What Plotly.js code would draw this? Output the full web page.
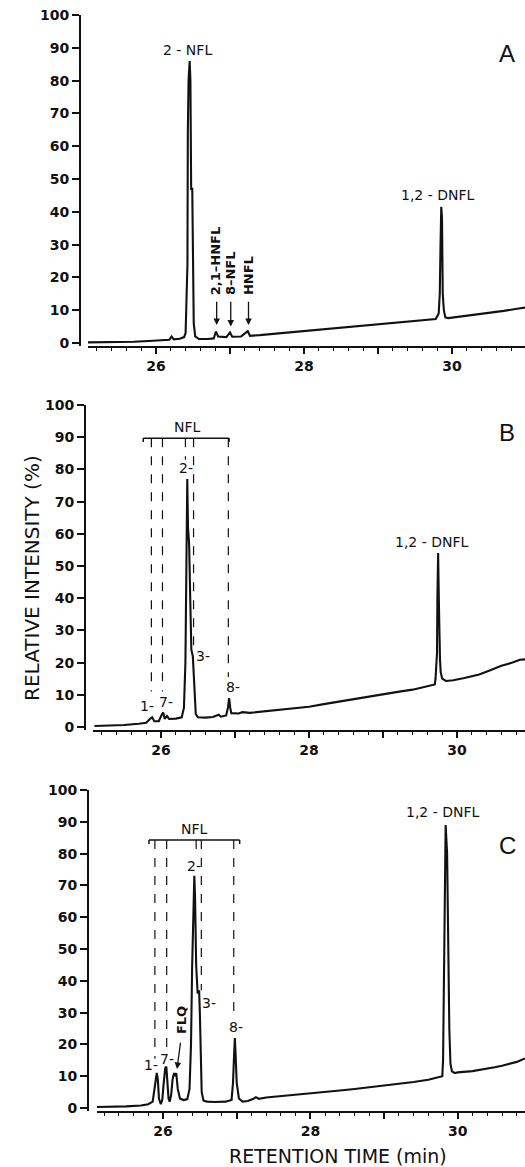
<!DOCTYPE html>
<html>
<head>
<meta charset="utf-8">
<script src="https://cdn.plot.ly/plotly-3.0.1.min.js"></script>
<style>html,body{margin:0;padding:0;background:#fff;}#chart{width:525px;height:1167px;}</style>
</head>
<body>
<div id="chart"></div>
<script>
// ---------- Data ----------
const timeA = [25.08,25.3,25.5,25.7,25.9,26.0,26.1,26.18,26.21,26.24,26.32,26.38,26.40,26.41,26.42,26.425,26.43,26.44,26.455,26.465,26.47,26.475,26.49,26.50,26.51,26.53,26.58,26.7,26.78,26.81,26.84,26.95,27.0,27.03,27.15,27.24,27.27,27.4,27.6,27.8,28.0,28.2,28.4,28.6,28.8,29.0,29.2,29.4,29.6,29.78,29.82,29.835,29.845,29.855,29.865,29.87,29.875,29.89,29.91,29.95,30.1,30.3,30.5,30.7,30.9,30.99];
const intensityA = [0.2,0.2,0.3,0.4,0.6,0.8,0.9,1.0,2.0,1.1,1.3,1.8,3,12,24,24,64,80,86,80,64,47,47,20,6,2.0,1.2,1.2,1.4,3.5,2.0,1.8,3.2,1.9,2.0,3.6,2.2,2.4,2.8,3.2,3.7,4.1,4.5,5.0,5.4,5.8,6.2,6.6,7.0,7.3,9,15,30,41.5,38,28,15,10,7.8,7.6,8.0,8.6,9.2,9.8,10.5,10.8];

const timeB = [25.1,25.3,25.5,25.7,25.8,25.85,25.88,25.91,25.97,26.01,26.03,26.05,26.08,26.11,26.2,26.28,26.31,26.33,26.345,26.355,26.365,26.38,26.395,26.41,26.43,26.45,26.47,26.5,26.6,26.7,26.78,26.81,26.88,26.905,26.92,26.935,26.95,27.05,27.1,27.2,27.4,27.6,27.8,28.0,28.2,28.4,28.6,28.8,29.0,29.2,29.4,29.6,29.7,29.71,29.72,29.73,29.735,29.745,29.755,29.76,29.77,29.78,29.8,29.85,29.95,30.1,30.3,30.45,30.6,30.75,30.85,30.93];
const intensityB = [0.3,0.4,0.6,1.0,1.3,2.5,3.0,1.8,1.8,3.8,4.5,2.5,3.4,2.5,2.6,3.0,6,20,60,77,62,57,40,24,22,12,4,3.0,2.9,3.1,3.8,3.2,3.6,6,9,6,4.3,4.2,4.6,4.4,4.9,5.4,5.9,6.3,7.1,7.9,8.7,9.4,10.2,10.9,11.6,12.6,13.2,15,21,23,40,54,39,23,21,17,15,14.3,14.5,15.2,16.3,17.6,19.0,20.0,20.9,21.0];

const timeC = [25.1,25.3,25.5,25.7,25.8,25.86,25.88,25.9,25.915,25.93,25.945,25.97,25.99,26.01,26.03,26.045,26.06,26.075,26.09,26.11,26.13,26.15,26.165,26.18,26.2,26.23,26.28,26.33,26.36,26.38,26.395,26.41,26.425,26.435,26.45,26.47,26.49,26.5,26.51,26.525,26.55,26.6,26.7,26.85,26.93,26.95,26.965,26.975,26.985,27.0,27.03,27.08,27.15,27.22,27.26,27.3,27.4,27.6,27.8,28.0,28.2,28.4,28.6,28.8,29.0,29.2,29.4,29.6,29.72,29.79,29.80,29.815,29.825,29.835,29.855,29.87,29.885,29.9,29.92,29.96,30.0,30.2,30.35,30.5,30.6,30.7,30.8,30.91];
const intensityC = [0.3,0.3,0.5,0.8,1.2,2.0,6,10,11,9,3,1.2,2.5,8,12.5,13,8,3,2.0,4,9,11,10,11,6,3,2.5,2.8,6,20,44,66,73,66,45,36,37,30,18,5,2.3,2.0,1.9,2.0,2.5,8,17,22,17,8,3,2.0,2.2,2.8,3.4,2.9,3.3,3.7,4.1,4.6,5.1,5.5,6.0,6.5,7.1,7.6,8.2,8.9,9.5,10,15,50,80,89,80,51,25,14,11.5,11.0,11.2,11.6,12.1,12.8,13.3,13.8,14.5,15.6];

const yTickValues = [0,10,20,30,40,50,60,70,80,90,100];
const xTickValues = [26,27,28,29,30];
const xTickLabels = ['26','','28','','30'];

// ---------- Page geometry (pixels) ----------
const W = 525, H = 1167;
const panels = [
  {yAxisPx: 80, xStartPx: 88, px26: 156, pxPerMin: 74.0, top100: 15,  zero: 343},
  {yAxisPx: 85, xStartPx: 93, px26: 161, pxPerMin: 74.0, top100: 405, zero: 727},
  {yAxisPx: 88, xStartPx: 97, px26: 163, pxPerMin: 73.7, top100: 790, zero: 1108}
];
const YMIN = -1, YMAX = 100;

const ink = '#111';
const tickFont = {family: 'DejaVu Sans', size: 14, color: ink, weight: 'bold'};
const labelFont = {family: 'DejaVu Sans', size: 14, color: ink};

const layout = {
  width: W, height: H,
  margin: {l: 0, r: 0, t: 0, b: 0, pad: 0},
  paper_bgcolor: '#fff', plot_bgcolor: '#fff',
  showlegend: false,
  shapes: [], annotations: []
};

panels.forEach((p, i) => {
  const n = i === 0 ? '' : String(i + 1);
  const unit = (p.zero - p.top100) / 100;
  const bottomPx = p.zero - YMIN * unit;
  const topPx = p.zero - YMAX * unit;
  layout['xaxis' + n] = {
    domain: [p.xStartPx / W, 1],
    range: [26 - (p.px26 - p.xStartPx) / p.pxPerMin, 26 + (W - p.px26) / p.pxPerMin],
    anchor: 'y' + n,
    showline: true, linewidth: 2, linecolor: ink,
    showgrid: false, zeroline: false,
    ticks: 'outside', ticklen: 6, tickwidth: 2, tickcolor: ink,
    tickmode: 'array', tickvals: xTickValues, ticktext: xTickLabels,
    minor: {ticks: 'outside', dtick: 0.2, ticklen: 3, tickwidth: 1, tickcolor: ink},
    tickfont: tickFont, fixedrange: true
  };
  layout['yaxis' + n] = {
    domain: [1 - bottomPx / H, 1 - topPx / H],
    range: [YMIN, YMAX],
    anchor: 'free', position: p.yAxisPx / W,
    showline: true, linewidth: 2, linecolor: ink,
    showgrid: false, zeroline: false,
    ticks: 'outside', ticklen: 7, tickwidth: 2, tickcolor: ink,
    tickmode: 'array', tickvals: yTickValues,
    tickfont: tickFont, fixedrange: true
  };
});

const traces = [
  {x: timeA, y: intensityA, xaxis: 'x', yaxis: 'y'},
  {x: timeB, y: intensityB, xaxis: 'x2', yaxis: 'y2'},
  {x: timeC, y: intensityC, xaxis: 'x3', yaxis: 'y3'}
].map(t => Object.assign(t, {type: 'scatter', mode: 'lines', line: {color: ink, width: 2.1}, hoverinfo: 'skip'}));

function txt(ax, x, y, text, extra) {
  layout.annotations.push(Object.assign({xref: 'x' + ax, yref: 'y' + ax, x: x, y: y, text: text,
    showarrow: false, font: labelFont, xanchor: 'center', yanchor: 'middle'}, extra || {}));
}
function arrow(ax, x0, y0, x1, y1) {
  layout.annotations.push({xref: 'x' + ax, yref: 'y' + ax, axref: 'x' + ax, ayref: 'y' + ax,
    x: x1, y: y1, ax: x0, ay: y0, text: '', showarrow: true, arrowhead: 2, arrowsize: 1,
    arrowwidth: 1.3, arrowcolor: ink});
}
function seg(ax, x0, y0, x1, y1, dash) {
  layout.shapes.push({type: 'line', xref: 'x' + ax, yref: 'y' + ax, x0: x0, y0: y0, x1: x1, y1: y1,
    line: {color: ink, width: dash ? 1.2 : 1.5, dash: dash ? 'dash' : 'solid'}});
}

const letterFont = {family: 'Liberation Sans', size: 24, color: ink};
const rotFont = {family: 'DejaVu Sans', size: 13, color: ink, weight: 'bold'};

// Panel A
txt('', 26.43, 89.3, '2 - NFL');
txt('', 29.81, 45, '1,2 - DNFL');
txt('', 30.74, 88.4, 'A', {font: letterFont});
txt('', 26.80, 14, '2,1–HNFL', {textangle: -90, yanchor: 'bottom', font: rotFont});
txt('', 27.00, 14, '8–NFL', {textangle: -90, yanchor: 'bottom', font: rotFont});
txt('', 27.25, 14, 'HNFL', {textangle: -90, yanchor: 'bottom', font: rotFont});
arrow('', 26.82, 13, 26.82, 5.5);
arrow('', 27.01, 13, 27.01, 5.0);
arrow('', 27.25, 13, 27.25, 5.5);

// Panel B
seg('2', 25.76, 89.7, 26.92, 89.7, false);
seg('2', 25.76, 89.7, 25.76, 88.5, false);
seg('2', 26.92, 89.7, 26.92, 88.5, false);
seg('2', 25.87, 89.7, 25.87, 11, true);
seg('2', 26.02, 89.7, 26.02, 11, true);
seg('2', 26.33, 89.7, 26.33, 83, true);
seg('2', 26.44, 89.7, 26.44, 25, true);
seg('2', 26.91, 89.7, 26.91, 15.5, true);
txt('2', 26.36, 93.2, 'NFL');
txt('2', 26.34, 80.5, '2-');
txt('2', 26.57, 22, '3-');
txt('2', 26.97, 12.4, '8-');
txt('2', 25.81, 6.6, '1-');
txt('2', 26.07, 7.9, '7-');
txt('2', 29.66, 57.5, '1,2 - DNFL');
txt('2', 30.68, 91.5, 'B', {font: letterFont});

// Panel C
seg('3', 25.81, 84.3, 27.04, 84.3, false);
seg('3', 25.81, 84.3, 25.81, 83, false);
seg('3', 27.04, 84.3, 27.04, 83, false);
seg('3', 25.89, 84.3, 25.89, 15.5, true);
seg('3', 26.05, 84.3, 26.05, 17.5, true);
seg('3', 26.45, 84.3, 26.45, 79, true);
seg('3', 26.52, 84.3, 26.52, 37, true);
seg('3', 26.96, 84.3, 26.96, 28, true);
txt('3', 26.43, 87.6, 'NFL');
txt('3', 26.42, 76, '2-');
txt('3', 26.62, 33, '3-');
txt('3', 26.99, 25.5, '8-');
txt('3', 25.84, 13.5, '1-');
txt('3', 26.05, 15.3, '7-');
txt('3', 26.26, 27.7, 'FLQ', {textangle: -90, font: rotFont});
arrow('3', 26.24, 21, 26.19, 12.3);
txt('3', 29.80, 93, '1,2 - DNFL');
txt('3', 30.68, 82.5, 'C', {font: letterFont});

// Axis titles
layout.annotations.push({xref: 'paper', yref: 'paper', x: 32 / W, y: 1 - 578 / H,
  text: 'RELATIVE INTENSITY (%)', textangle: -90, showarrow: false,
  font: {family: 'DejaVu Sans', size: 20, color: ink}, xanchor: 'center', yanchor: 'middle'});
layout.annotations.push({xref: 'paper', yref: 'paper', x: 338 / W, y: 1 - 1156 / H,
  text: 'RETENTION TIME (min)', showarrow: false,
  font: {family: 'DejaVu Sans', size: 19, color: ink}, xanchor: 'center', yanchor: 'middle'});

Plotly.newPlot('chart', traces, layout, {staticPlot: true, displayModeBar: false});
</script>
</body>
</html>
